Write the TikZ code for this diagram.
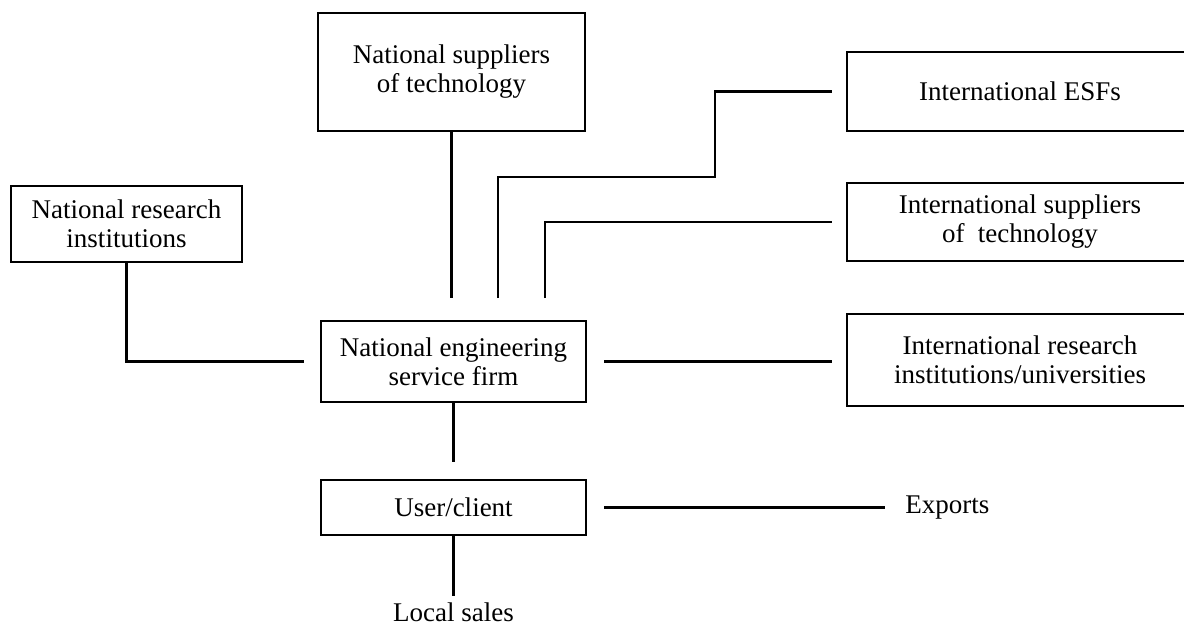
\documentclass[tikz,border=0pt]{standalone}
\usepackage{fontspec}
\setmainfont{Liberation Serif}
\usetikzlibrary{calc}
\tikzset{
  box/.style={draw, line width=1.2pt, rectangle, inner sep=0pt, align=center,
    font=\fontsize{13.5}{14.5}\selectfont},
  lbl/.style={inner sep=0pt, font=\fontsize{13.5}{14.5}\selectfont},
  conn/.style={line width=1.2pt}
}
\begin{document}
\begin{tikzpicture}[x=0.5pt,y=-0.5pt]
\clip (0,0) rectangle (1184,627);
\fill[white] (0,0) rectangle (1184,627);
% boxes
\node[box, minimum width=133.5pt, minimum height=59pt] (natsup) at (451.5,72) {National suppliers\\of technology};
\node[box, minimum width=115.5pt, minimum height=38pt] (nri) at (126.5,224) {National research\\institutions};
\node[box, minimum width=132.5pt, minimum height=40.5pt] (nes) at (453.5,361.5) {National engineering\\service firm};
\node[box, minimum width=132.5pt, minimum height=27.5pt] (user) at (453.5,507.5) {User/client};
\node[box, minimum width=173pt, minimum height=39.5pt] (esf) at (1020,91.5) {International ESFs};
\node[box, minimum width=173pt, minimum height=39pt] (intsup) at (1020,222) {International suppliers\\of\ \ technology};
\node[box, minimum width=173pt, minimum height=46pt] (intres) at (1020,360) {International research\\institutions/universities};
\node[lbl] (local) at (453.5,612) {Local sales};
\node[lbl, anchor=west] (exports) at (905,507.5) {Exports};
% free ends and bends
\coordinate (nsend) at (451.5,298);
\coordinate (esfa) at (498,298);
\coordinate (esfk) at (715,177);
\coordinate (isa) at (545,298);
% connectors
\draw[conn] (natsup.south) -- (nsend);
\draw[conn, shorten >=7pt] (esfa) |- (esfk) |- (esf.west);
\draw[conn, shorten >=7pt] (isa) |- (intsup.west);
\draw[conn, shorten <=8.5pt, shorten >=7pt] (nes.east) -- (nes.east -| intres.west);
\draw[conn, shorten >=8pt] (nri.south) |- (nes.west);
\draw[conn, shorten >=8.5pt] (nes.south) -- (user.north);
\draw[conn, shorten >=3pt] (user.south) -- (local.north);
\draw[conn, shorten <=8.5pt, shorten >=10pt] (user.east) -- (user.east -| exports.west);
\end{tikzpicture}
\end{document}
